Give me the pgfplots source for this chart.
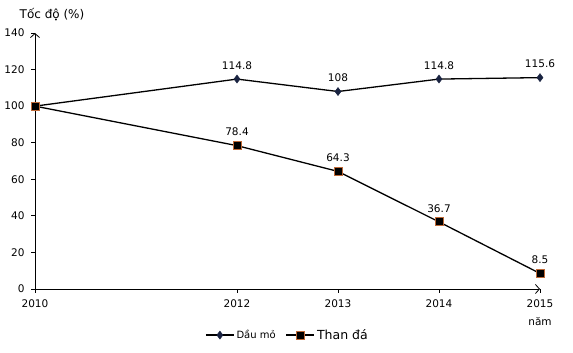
\documentclass[border=0pt]{standalone}
\usepackage{fontspec}
\setmainfont{DejaVu Sans}
\usepackage{pgfplots}
\pgfplotsset{compat=1.18}
\usetikzlibrary{arrows.meta}
\definecolor{navy}{RGB}{25,35,65}
\definecolor{brownedge}{RGB}{190,105,55}
\begin{document}
\begin{tikzpicture}
\useasboundingbox (-35pt,-64pt) rectangle (538pt,289pt);
\begin{axis}[
  scale only axis, width=505pt, height=256pt,
  xmin=2010, xmax=2015, ymin=0, ymax=140,
  axis lines=left,
  axis line style={line width=0.8pt,-{Straight Barb[length=4pt,width=9pt,line width=0.8pt]}},
  xtick={2010,2012,2013,2014,2015},
  xticklabels={2010,2012,2013,2014,{2015\\năm}},
  ytick={0,20,...,140},
  tick align=outside, major tick length=4pt,
  tick style={line width=0.8pt,black},
  /pgf/number format/assume math mode=true,
  ticklabel style={font=\fontsize{10.5}{18}\selectfont},
  xticklabel style={align=center, yshift=-3pt},
  yticklabel style={xshift=-3pt},
  every node near coord/.append style={font=\fontsize{10.5}{12}\selectfont, black, yshift=6pt},
  nodes near coords, point meta=explicit symbolic,
  legend style={at={(axis description cs:0.5,-0.18)}, anchor=center, draw=none, legend columns=2,
    /tikz/every even column/.append style={column sep=8pt}},
  legend cell align=left,
  legend image code/.code={\draw[mark repeat=2,mark phase=2] plot coordinates {(0pt,0pt) (14pt,0pt) (28pt,0pt)};},
  clip=false,
]
\addplot[line width=1.3pt, black, mark=diamond*, mark size=4pt, mark options={fill=navy, draw=navy, line width=0.5pt}]
  coordinates {(2010,100)[] (2012,114.8)[114.8] (2013,108)[108] (2014,114.8)[114.8] (2015,115.6)[115.6]};
\addlegendentry{\fontsize{10}{11}\selectfont Dầu mỏ}
\addplot[line width=1.3pt, black, mark=square*, mark size=4pt, mark options={fill=black, draw=brownedge, line width=0.8pt}]
  coordinates {(2010,100)[] (2012,78.4)[78.4] (2013,64.3)[64.3] (2014,36.7)[36.7] (2015,8.5)[8.5]};
\addlegendentry{\fontsize{12.5}{14}\selectfont Than đá}
\node[font=\fontsize{12}{13}\selectfont] at (rel axis cs:0,1) [xshift=17pt, yshift=18pt] {Tốc độ (\%)};
\end{axis}
\end{tikzpicture}
\end{document}
